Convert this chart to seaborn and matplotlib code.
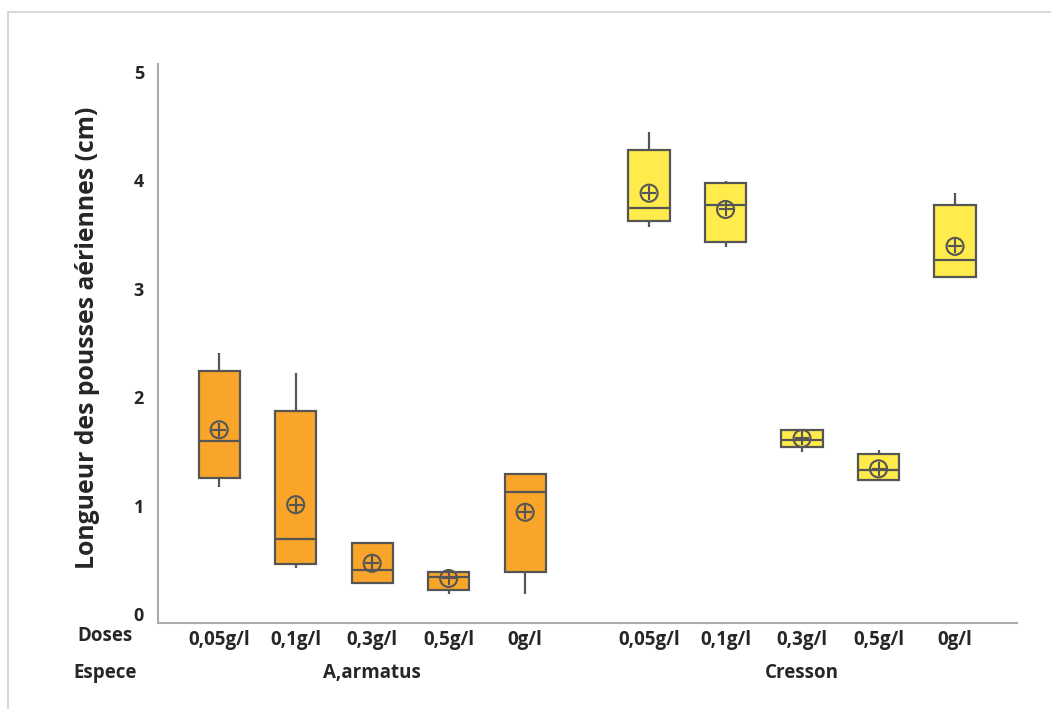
import numpy as np
import pandas as pd
import matplotlib
matplotlib.use("Agg")
import matplotlib.pyplot as plt
import matplotlib.transforms as mtransforms
import seaborn as sns

# data (cm)
especes = ["A,armatus", "Cresson"]
doses = ["0,05g/l", "0,1g/l", "0,3g/l", "0,5g/l", "0g/l"]

# per box: whisker low, Q1, median, Q3, whisker high
armatus_boxes = [
    [1.17, 1.26, 1.60, 2.24, 2.41],
    [0.43, 0.46, 0.69, 1.87, 2.22],
    [0.29, 0.29, 0.41, 0.66, 0.66],
    [0.19, 0.22, 0.34, 0.39, 0.41],
    [0.19, 0.39, 1.13, 1.29, 1.30],
]
cresson_boxes = [
    [3.57, 3.62, 3.74, 4.28, 4.44],
    [3.38, 3.43, 3.77, 3.97, 3.99],
    [1.50, 1.54, 1.61, 1.70, 1.71],
    [1.23, 1.24, 1.33, 1.48, 1.51],
    [3.11, 3.11, 3.26, 3.77, 3.88],
]
armatus_means = [1.70, 1.01, 0.47, 0.33, 0.94]
cresson_means = [3.88, 3.73, 1.62, 1.34, 3.39]

orange = "#F8A52A"
yellow = "#FFEB4B"
edge = "#555555"
axis_grey = "#ABABAB"

# build long table; 5 values per box so quartiles land on the listed numbers
gap = 1.62
rows = []
mean_rows = []
for g, (sp, boxes, means) in enumerate([(especes[0], armatus_boxes, armatus_means),
                                         (especes[1], cresson_boxes, cresson_means)]):
    for i, d in enumerate(doses):
        pos = i + g * (len(doses) - 1 + gap)
        for v in boxes[i]:
            rows.append({"pos": pos, "Espece": sp, "Doses": d, "val": v})
        mean_rows.append({"pos": pos, "Espece": sp, "Doses": d, "mean": means[i]})
df = pd.DataFrame(rows)
mdf = pd.DataFrame(mean_rows)

sns.set_style("white")
plt.rcParams["font.family"] = ["Open Sans", "DejaVu Sans"]
txt = {"fontsize": 13.5, "fontweight": "bold"}

fig = plt.figure(figsize=(10.51, 7.09), dpi=100)
ax = fig.add_axes([158 / 1051, 1 - 623 / 709, (1017 - 158) / 1051, (623 - 64) / 709])

sns.boxplot(data=df, x="pos", y="val", hue="Espece", palette=[orange, yellow],
            saturation=1, native_scale=True, dodge=False, width=0.54, whis=(0, 100),
            showcaps=False, linecolor=edge, linewidth=1.6, legend=False, ax=ax,
            medianprops={"color": edge, "linewidth": 1.6},
            whiskerprops={"color": edge, "linewidth": 1.6})

# mean symbols (circle with cross)
sns.scatterplot(data=mdf, x="pos", y="mean", marker="o", s=150, facecolor="none",
                edgecolor=edge, linewidth=1.5, ax=ax, zorder=5)
sns.scatterplot(data=mdf, x="pos", y="mean", marker="+", s=110, color=edge,
                linewidth=1.5, ax=ax, zorder=5)

ax.set_xlim(mdf["pos"].min() - 0.8, mdf["pos"].max() + 0.81)
ax.set_ylim(-0.08, 5.07)
ax.set_yticks([0, 1, 2, 3, 4, 5])
ax.set_yticklabels(["0", "1", "2", "3", "4", "5"], fontsize=13, fontweight="bold")
ax.set_xticks(mdf["pos"])
ax.set_xticklabels(mdf["Doses"], **txt)
ax.tick_params(axis="both", length=4, width=1.2, color=axis_grey)
ax.tick_params(axis="x", pad=1)
ax.tick_params(axis="y", pad=6)
ax.set_xlabel("")
ax.set_ylabel("")
for s in ["top", "right"]:
    ax.spines[s].set_visible(False)
for s in ["left", "bottom"]:
    ax.spines[s].set_color(axis_grey)
    ax.spines[s].set_linewidth(1.5)

# second row of category labels
trans = mtransforms.blended_transform_factory(ax.transData, fig.transFigure)
for sp in especes:
    centre = mdf.loc[mdf["Espece"] == sp, "pos"].mean()
    ax.text(centre, 1 - 673 / 709, sp, transform=trans, ha="center", va="center", **txt)
fig.text(105 / 1051, 1 - 636 / 709, "Doses", ha="center", va="center", **txt)
fig.text(105 / 1051, 1 - 673 / 709, "Espece", ha="center", va="center", **txt)

fig.text(88 / 1051, 1 - 338 / 709, "Longueur des pousses aériennes (cm)",
         rotation=90, ha="center", va="center", fontsize=17.8, fontweight="bold")

# light frame of the graph window
fig.add_artist(plt.Line2D([8 / 1051, 8 / 1051], [0, 1 - 12 / 709],
                          transform=fig.transFigure, color="#D0D0D0", linewidth=1.2))
fig.add_artist(plt.Line2D([8 / 1051, 1], [1 - 12 / 709, 1 - 12 / 709],
                          transform=fig.transFigure, color="#D0D0D0", linewidth=1.2))

fig.savefig("out.png", dpi=100)
